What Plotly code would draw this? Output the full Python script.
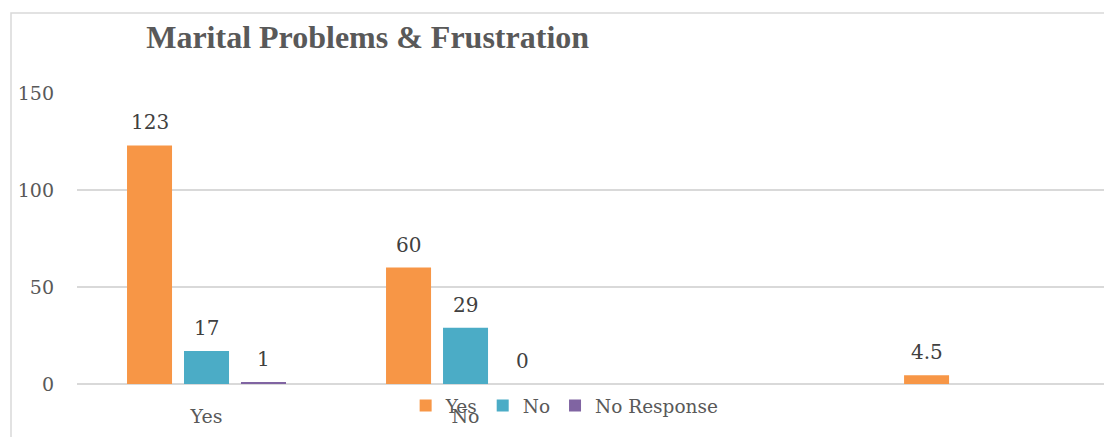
import plotly.graph_objects as go

# Survey answers grouped by response category
CATEGORIES = ["Yes", "No", "", ""]
SERIES_NAMES = ["Yes", "No", "No Response"]
YES_VALUES = [123, 60, None, 4.5]
NO_VALUES = [17, 29, None, None]
NO_RESPONSE_VALUES = [1, 0, None, None]
Y_TICKS = [0, 50, 100, 150]

COLORS = ["#F79646", "#4BACC6", "#8064A2"]
SERIES_VALUES = [YES_VALUES, NO_VALUES, NO_RESPONSE_VALUES]

BARGAP = 0.34
BARGROUPGAP = 0.21
LABEL_FONT = "DejaVu Serif"

x_pos = list(range(len(CATEGORIES)))
fig = go.Figure()
for name, values, color in zip(SERIES_NAMES, SERIES_VALUES, COLORS):
    fig.add_trace(go.Bar(
        x=x_pos, y=values, name=name,
        marker=dict(color=color, line=dict(width=0)),
        hoverinfo="skip",
    ))

# value labels above each bar, positioned at the bar's slot in its group
slot = (1 - BARGAP) / len(SERIES_NAMES)
annotations = []
for i, values in enumerate(SERIES_VALUES):
    offset = (i - (len(SERIES_NAMES) - 1) / 2) * slot
    for xi, v in zip(x_pos, values):
        if v is None:
            continue
        annotations.append(dict(
            x=xi + offset, y=v, xref="x", yref="y",
            text=f"{v:g}", showarrow=False, yshift=23,
            yanchor="middle", xanchor="center",
            font=dict(family=LABEL_FONT, size=20, color="#404040"),
        ))

fig.update_layout(
    width=1104, height=437,
    margin=dict(l=77, r=0, t=93, b=53),
    paper_bgcolor="white", plot_bgcolor="white",
    barmode="group", bargap=BARGAP, bargroupgap=BARGROUPGAP,
    title=dict(
        text="<b>Marital Problems & Frustration</b>",
        x=0.333, xanchor="center", xref="container",
        y=1 - 37 / 437, yanchor="middle", yref="container",
        font=dict(family="Liberation Serif", size=32, color="#595959"),
    ),
    xaxis=dict(
        tickvals=[0, 1], ticktext=CATEGORIES[:2],
        range=[-0.5, 3.465], showgrid=False, zeroline=False, showline=False,
        ticks="outside", ticklen=15, tickcolor="rgba(0,0,0,0)",
        tickfont=dict(family=LABEL_FONT, size=19, color="#595959"),
    ),
    yaxis=dict(
        range=[0, 150], tickvals=Y_TICKS,
        showgrid=True, gridcolor="#D9D9D9", gridwidth=1.5,
        zeroline=True, zerolinecolor="#D9D9D9", zerolinewidth=1.5,
        showline=False, ticklabelstandoff=22,
        tickfont=dict(family=LABEL_FONT, size=19, color="#595959"),
    ),
    legend=dict(
        orientation="h", x=0.32, xanchor="left", y=-0.0756, yanchor="middle",
        font=dict(family=LABEL_FONT, size=18.5, color="#595959"),
        bgcolor="rgba(0,0,0,0)", traceorder="normal",
    ),
    annotations=annotations,
    shapes=[dict(
        type="rect", xref="paper", yref="paper",
        x0=(11 - 77) / 1027, x1=1.2, y0=-0.6, y1=(384 - 13) / 291,
        line=dict(color="#D9D9D9", width=1.5), fillcolor="rgba(0,0,0,0)",
        layer="below",
    )],
)

fig.write_html("out.html")
